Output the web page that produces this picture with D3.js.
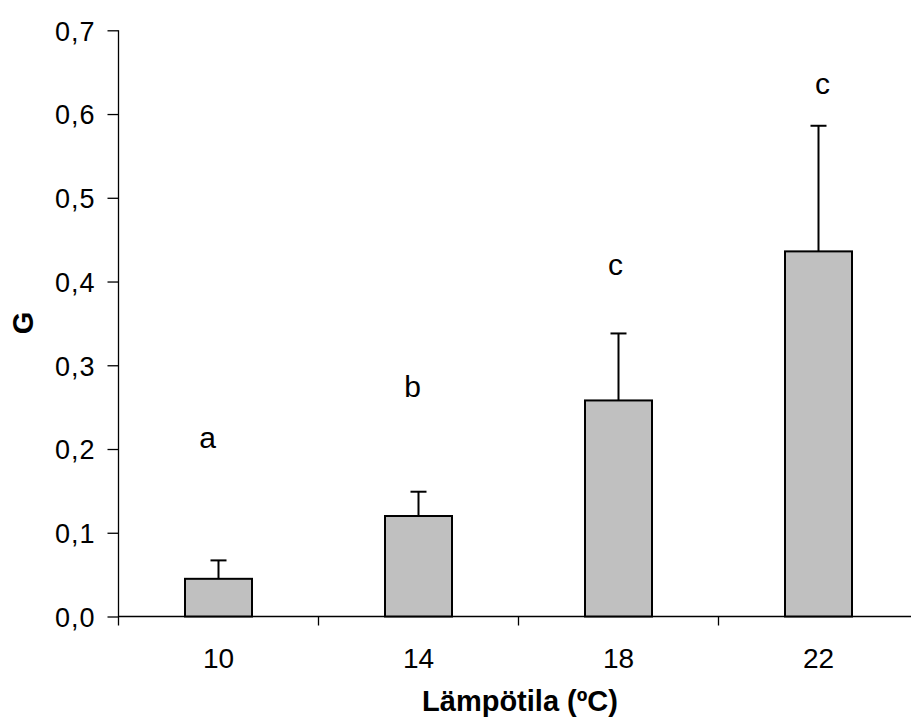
<!DOCTYPE html>
<html>
<head>
<meta charset="utf-8">
<script src="https://cdn.jsdelivr.net/npm/d3@7"></script>
<style>
  html, body { margin: 0; padding: 0; background: #fff; }
  svg { display: block; }
  text { font-family: Arial, "Liberation Sans", sans-serif; fill: #000; }
</style>
</head>
<body>
<svg id="chart" width="911" height="724"></svg>
<script>
// Growth rate G by temperature, with standard error and group letters
const temperatures = ["10", "14", "18", "22"];
const meanG = [0.045, 0.120, 0.258, 0.436];
const errorTop = [0.067, 0.149, 0.338, 0.586];
const groupLetters = ["a", "b", "c", "c"];
const letterLevel = [0.201, 0.262, 0.408, 0.624];
const yTicks = [0, 0.1, 0.2, 0.3, 0.4, 0.5, 0.6, 0.7];

const svg = d3.select("#chart");
const plotLeft = 118.5, plotRight = 918.5, plotTop = 30.3, plotBottom = 616.5;

const x = d3.scaleBand().domain(temperatures).range([plotLeft, plotRight]).padding(0);
const y = d3.scaleLinear().domain([0, 0.7]).range([plotBottom, plotTop]);
const barW = x.bandwidth() * 0.335;
const fmt = d => d3.format(".1f")(d).replace(".", ",");

// y axis
const yAxis = svg.append("g").attr("transform", `translate(${plotLeft},0)`)
  .call(d3.axisLeft(y).tickValues(yTicks).tickFormat(fmt).tickSizeOuter(0).tickSize(11).tickPadding(12));
yAxis.select(".domain").remove();
yAxis.selectAll(".tick line").attr("stroke", "#000").attr("stroke-width", 1.3);
yAxis.selectAll(".tick text").attr("font-size", 27).attr("letter-spacing", 1).attr("dy", "0.36em");
svg.append("line").attr("x1", plotLeft).attr("x2", plotLeft).attr("y1", plotTop).attr("y2", plotBottom + 9)
  .attr("stroke", "#000").attr("stroke-width", 1.3);

// x axis: ticks at category boundaries, labels at centres
svg.append("line").attr("x1", plotLeft).attr("x2", plotRight).attr("y1", plotBottom).attr("y2", plotBottom)
  .attr("stroke", "#000").attr("stroke-width", 1.3);
const bounds = temperatures.map(t => x(t) + x.bandwidth());
svg.append("g").selectAll("line").data(bounds).join("line")
  .attr("x1", d => d).attr("x2", d => d).attr("y1", plotBottom).attr("y2", plotBottom + 9)
  .attr("stroke", "#000").attr("stroke-width", 1.3);
svg.append("g").selectAll("text").data(temperatures).join("text")
  .attr("x", d => x(d) + x.bandwidth() / 2).attr("y", 668)
  .attr("text-anchor", "middle").attr("font-size", 28).text(d => d);

// error bars (upper only)
const eb = svg.append("g");
temperatures.forEach((t, i) => {
  const cx = x(t) + x.bandwidth() / 2;
  eb.append("line").attr("x1", cx).attr("x2", cx).attr("y1", y(meanG[i])).attr("y2", y(errorTop[i]))
    .attr("stroke", "#000").attr("stroke-width", 2);
  eb.append("line").attr("x1", cx - 8).attr("x2", cx + 8).attr("y1", y(errorTop[i])).attr("y2", y(errorTop[i]))
    .attr("stroke", "#000").attr("stroke-width", 2);
});

// bars
svg.append("g").selectAll("rect").data(temperatures).join("rect")
  .attr("x", d => x(d) + (x.bandwidth() - barW) / 2)
  .attr("width", barW)
  .attr("y", (d, i) => y(meanG[i]))
  .attr("height", (d, i) => y(0) - y(meanG[i]))
  .attr("fill", "#c0c0c0").attr("stroke", "#000").attr("stroke-width", 2);

// group letters
const letterShift = [-11, -6, -3, 4];
svg.append("g").selectAll("text").data(groupLetters).join("text")
  .attr("x", (d, i) => x(temperatures[i]) + x.bandwidth() / 2 + letterShift[i])
  .attr("y", (d, i) => y(letterLevel[i]))
  .attr("text-anchor", "middle").attr("font-size", 30).text(d => d);

// axis titles
svg.append("text").attr("transform", "translate(33,323) rotate(-90)")
  .attr("text-anchor", "middle").attr("font-size", 29).attr("font-weight", "bold").text("G");
svg.append("text").attr("x", 520).attr("y", 711)
  .attr("text-anchor", "middle").attr("font-size", 29).attr("font-weight", "bold").text("Lämpötila (ºC)");
</script>
</body>
</html>
